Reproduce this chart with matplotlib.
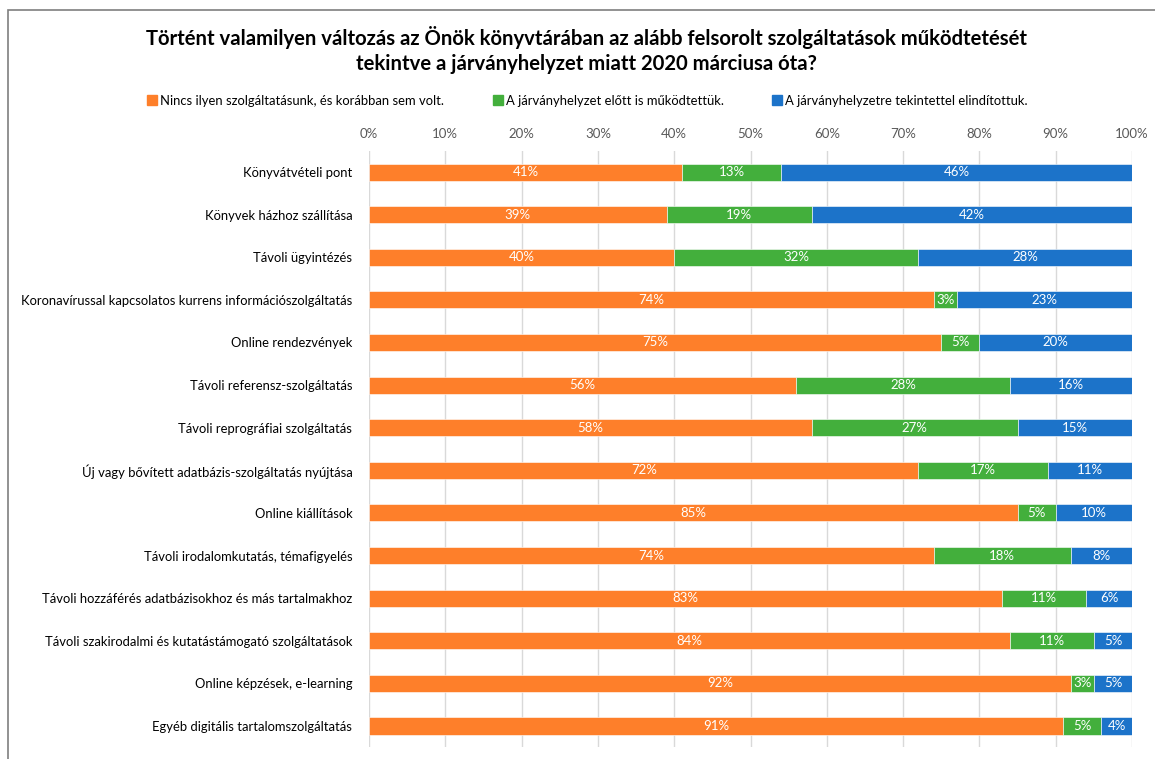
import matplotlib.pyplot as plt
import matplotlib.patches as patches
from matplotlib.lines import Line2D

plt.rcParams['font.family'] = ['Lato', 'DejaVu Sans']

kategoriak = [
    "Könyvátvételi pont",
    "Könyvek házhoz szállítása",
    "Távoli ügyintézés",
    "Koronavírussal kapcsolatos kurrens információszolgáltatás",
    "Online rendezvények",
    "Távoli referensz-szolgáltatás",
    "Távoli reprográfiai szolgáltatás",
    "Új vagy bővített adatbázis-szolgáltatás nyújtása",
    "Online kiállítások",
    "Távoli irodalomkutatás, témafigyelés",
    "Távoli hozzáférés adatbázisokhoz és más tartalmakhoz",
    "Távoli szakirodalmi és kutatástámogató szolgáltatások",
    "Online képzések, e-learning",
    "Egyéb digitális tartalomszolgáltatás",
]
nincs = [41, 39, 40, 74, 75, 56, 58, 72, 85, 74, 83, 84, 92, 91]
korabban = [13, 19, 32, 3, 5, 28, 27, 17, 5, 18, 11, 11, 3, 5]
elinditott = [46, 42, 28, 23, 20, 16, 15, 11, 10, 8, 6, 5, 5, 4]
sorozatok = [
    "Nincs ilyen szolgáltatásunk, és korábban sem volt.",
    "A járványhelyzet előtt is működtettük.",
    "A járványhelyzetre tekintettel elindítottuk.",
]
tick_cimkek = [f"{v}%" for v in range(0, 101, 10)]

cores = ['#FE7F2A', '#43AF3C', '#1C73C9']

fig = plt.figure(figsize=(11.55, 7.59), dpi=100)
ax = fig.add_axes([0.3195, 0.0154, 0.6606, 0.786])

# keret a diagram körül
fig.patches.append(patches.Rectangle((8 / 1155, -0.1), 1.2, 1 - 10 / 759 + 0.1,
                                     transform=fig.transFigure, fill=False,
                                     ec='#7f7f7f', lw=1.2))

y = list(range(len(kategoriak)))
bal = [0] * len(kategoriak)
for ertekek, cor in zip([nincs, korabban, elinditott], cores):
    ax.barh(y, ertekek, left=bal, height=0.4, color=cor, edgecolor='white',
            linewidth=0.4, zorder=3)
    for i, v in enumerate(ertekek):
        ax.text(bal[i] + v / 2, i, f"{v}%", ha='center', va='center',
                color='white', fontsize=9.5, zorder=4)
    bal = [b + v for b, v in zip(bal, ertekek)]

ax.set_ylim(len(kategoriak) - 0.5, -0.5)
ax.set_xlim(0, 100)
ax.set_yticks(y)
ax.set_yticklabels(kategoriak, fontsize=9.4)
ax.set_xticks(range(0, 101, 10))
ax.set_xticklabels(tick_cimkek, fontsize=9.5, color='#595959')
ax.xaxis.tick_top()
ax.tick_params(length=0, pad=8)
ax.tick_params(axis='y', pad=12)
ax.grid(axis='x', color='#d9d9d9', lw=1, zorder=0)
for s in ax.spines.values():
    s.set_visible(False)

fig.text(0.508, 1 - 50 / 759,
         "Történt valamilyen változás az Önök könyvtárában az alább felsorolt szolgáltatások működtetését\n"
         "tekintve a járványhelyzet miatt 2020 márciusa óta?",
         ha='center', va='center', fontsize=14.6, fontweight='bold', linespacing=1.3)

kezelok = [Line2D([0], [0], marker='s', color='none', markerfacecolor=c,
                  markeredgecolor=c, markersize=7) for c in cores]
fig.legend(kezelok, sorozatok, loc='center', bbox_to_anchor=(0.508, 1 - 101 / 759),
           ncol=3, frameon=False, fontsize=9.4, handletextpad=0.1,
           columnspacing=3.6, handlelength=1.0)

plt.savefig('out.png', dpi=100)
